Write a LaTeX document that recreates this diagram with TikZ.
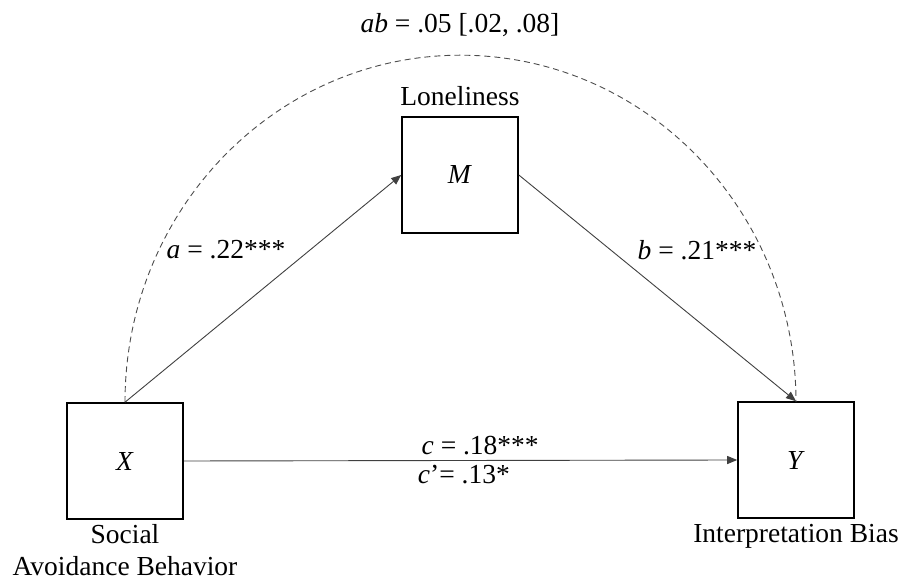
\documentclass[tikz,border=0pt]{standalone}
\usepackage{fontspec}
\setmainfont{Liberation Serif}
\usepackage{tikz}
\usetikzlibrary{arrows.meta,positioning}

\begin{document}
\begin{tikzpicture}[x=1pt, y=1pt, >={Triangle[length=10pt,width=8pt]},
    font=\fontsize{27.5}{35}\selectfont,
    var/.style={draw, line width=1.6pt, minimum size=116pt, inner sep=0pt},
    path/.style={->, line width=0.9pt, black!75}]
  \useasboundingbox (0,0) rectangle (917,580);
  \node[var] (avoid) at (125,119) {\textit{X}};
  \node[var] (lonely) at (460,405) {\textit{M}};
  \node[var] (bias) at (796,120) {\textit{Y}};
  \node[above=10pt of lonely, inner sep=0pt] (lonelylbl) {Loneliness};
  \node[below=4pt of avoid, inner sep=0pt, align=center,
    font=\fontsize{27.5}{32}\selectfont] (avoidlbl) {Social\\Avoidance Behavior};
  \node[below=5pt of bias, inner sep=0pt] (biaslbl) {Interpretation Bias};
  % paths
  \draw[path] (avoid.north) -- (lonely.west);
  \draw[path] (lonely.east) -- (bias.north);
  \draw[path] (avoid.east) -- (bias.west)
    node[pos=0.42, anchor=south west, inner sep=5pt, text=black] (clbl) {\textit{c} = .18***}
    node[pos=0.415, anchor=north west, inner sep=4pt, text=black] (cplbl) {\textit{c}’= .13*};
  % indirect effect
  \draw[dashed, dash pattern=on 6pt off 4pt, line width=0.9pt, black!70]
    (avoid.north) arc[start angle=180, end angle=0, x radius=335.5, y radius=347];
  \node[anchor=base] (ablbl) at (460,547) {\textit{ab} = .05 [.02, .08]};
  \node (albl) at (226,330) {\textit{a} = .22***};
  \node (blbl) at (697,330) {\textit{b} = .21***};
\end{tikzpicture}
\end{document}
